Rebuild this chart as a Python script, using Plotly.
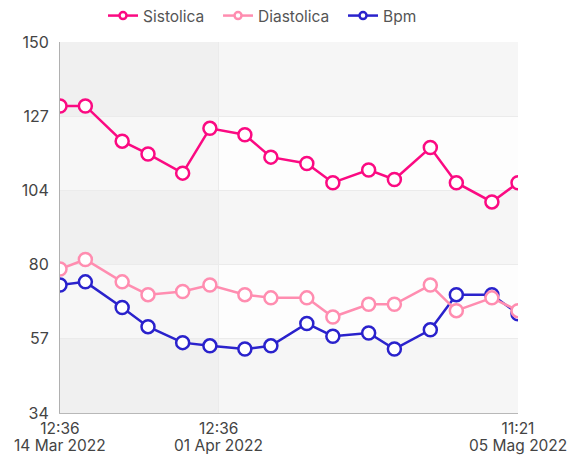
import plotly.graph_objects as go

dates = [
    "2022-03-14 12:36", "2022-03-17 09:40", "2022-03-21 13:50", "2022-03-24 12:10",
    "2022-03-28 10:30", "2022-03-31 12:40", "2022-04-04 11:50", "2022-04-07 10:40",
    "2022-04-11 12:30", "2022-04-14 11:20", "2022-04-18 12:50", "2022-04-21 10:50",
    "2022-04-25 12:40", "2022-04-28 11:30", "2022-05-02 12:20", "2022-05-05 11:21",
]
sistolica = [130, 130, 119, 115, 109, 123, 121, 114, 112, 106, 110, 107, 117, 106, 100, 106]
diastolica = [79, 82, 75, 71, 72, 74, 71, 70, 70, 64, 68, 68, 74, 66, 70, 66]
bpm = [74, 75, 67, 61, 56, 55, 54, 55, 62, 58, 59, 54, 60, 71, 71, 65]

series_names = ["Sistolica", "Diastolica", "Bpm"]
series_colors = ["#fb0a82", "#ff8db0", "#2a22cc"]

x_tickvals = ["2022-03-14 12:36", "2022-04-01 12:36", "2022-05-05 11:21"]
x_tick_times = ["12:36", "12:36", "11:21"]
x_tick_dates = ["14 Mar 2022", "01 Apr 2022", "05 Mag 2022"]

y_min, y_max = 34, 150
n_steps = 5
y_tickvals = [y_min + (y_max - y_min) * i / n_steps for i in range(n_steps + 1)]
y_ticktext = [str(round(v)) for v in y_tickvals]

font_family = "Inter, Roboto, sans-serif"
W, H = 572, 456
M_L, M_R, M_T, M_B = 60, 54, 42, 43
plot_h = H - M_T - M_B
X_FONT = 15.5

fig = go.Figure()

data_map = {"Sistolica": sistolica, "Diastolica": diastolica, "Bpm": bpm}
# draw order: Bpm, Sistolica, Diastolica (pink on top of blue)
for name in ["Bpm", "Sistolica", "Diastolica"]:
    color = series_colors[series_names.index(name)]
    fig.add_trace(go.Scatter(
        x=dates, y=data_map[name], mode="lines+markers", name=name,
        line=dict(color=color, width=2.5),
        marker=dict(size=13, color="white", line=dict(color=color, width=2.5)),
        showlegend=False, hoverinfo="x+y+name",
    ))

# legend-only entries with small markers
for rank, name in enumerate(series_names):
    color = series_colors[rank]
    label = name + ("\u00a0\u00a0" if rank < len(series_names) - 1 else "")
    fig.add_trace(go.Scatter(
        x=[None], y=[None], mode="lines+markers", name=label,
        line=dict(color=color, width=2.5),
        marker=dict(size=7, color="white", line=dict(color=color, width=2.5)),
        legendrank=rank + 1, showlegend=True,
    ))

shapes = []
# alternating row bands
for i in range(n_steps):
    if i % 2 == 0:
        shapes.append(dict(type="rect", xref="paper", yref="y", x0=0, x1=1,
                           y0=y_tickvals[n_steps - i - 1], y1=y_tickvals[n_steps - i],
                           fillcolor="rgba(0,0,0,0.028)", line=dict(width=0), layer="below"))
# first column band
shapes.append(dict(type="rect", xref="x", yref="paper", x0=x_tickvals[0], x1=x_tickvals[1],
                   y0=0, y1=1, fillcolor="rgba(0,0,0,0.025)", line=dict(width=0), layer="below"))

# second line of x tick labels (dates)
annotations = []
for xv, dt in zip(x_tickvals, x_tick_dates):
    annotations.append(dict(x=xv, xref="x", y=-32.5 / plot_h, yref="paper",
                            text=dt, showarrow=False, xanchor="center", yanchor="middle",
                            borderpad=0,
                            font=dict(size=X_FONT, color="#444444", family=font_family)))

fig.update_layout(
    width=W, height=H,
    margin=dict(l=M_L, r=M_R, t=M_T, b=M_B, autoexpand=False),
    paper_bgcolor="white", plot_bgcolor="#fdfdfd",
    font=dict(family=font_family, size=16, color="#444444"),
    shapes=shapes, annotations=annotations,
    legend=dict(orientation="h", x=103 / W, xanchor="left", xref="container",
                y=1 - 16 / H, yanchor="middle", yref="container",
                font=dict(size=15.5, color="#555555"), itemwidth=30, tracegroupgap=0),
    showlegend=True,
)
fig.update_xaxes(
    type="date", range=[x_tickvals[0], x_tickvals[-1]],
    tickvals=x_tickvals, ticktext=x_tick_times, ticks="",
    showgrid=True, gridcolor="#ebebeb", gridwidth=1,
    showline=True, linecolor="#b8b8b8", linewidth=1,
    zeroline=False, tickfont=dict(size=X_FONT, color="#444444"),
    automargin=False, ticklabelstandoff=1,
)
fig.update_yaxes(
    range=[y_min, y_max], tickvals=y_tickvals, ticktext=y_ticktext, ticks="",
    showgrid=True, gridcolor="#ebebeb", gridwidth=1,
    showline=True, linecolor="#b0b0b0", linewidth=1,
    zeroline=False, tickfont=dict(size=16, color="#444444"), ticklabelstandoff=7,
    automargin=False,
)

fig.write_html("out.html")
